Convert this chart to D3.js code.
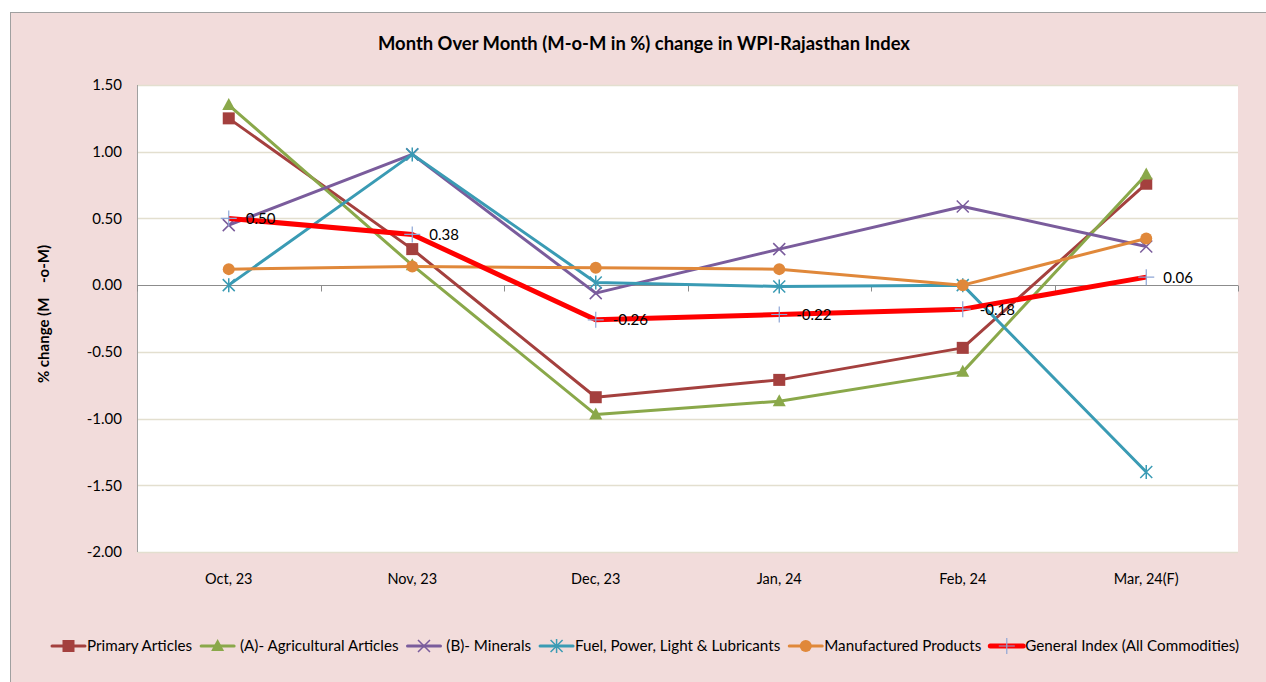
<!DOCTYPE html>
<html>
<head>
<meta charset="utf-8">
<script src="https://cdn.jsdelivr.net/npm/d3@7"></script>
<style>
  body { margin: 0; background: #fff; }
  svg text { font-family: "Lato", "Open Sans", sans-serif; fill: #000; }
</style>
</head>
<body>
<div id="chart"></div>
<script>
// data
var months = ['Oct, 23', 'Nov, 23', 'Dec, 23', 'Jan, 24', 'Feb, 24', 'Mar, 24(F)'];
var seriesNames = ['Primary Articles', ' (A)- Agricultural Articles', ' (B)- Minerals',
  'Fuel, Power, Light & Lubricants', 'Manufactured Products', 'General Index (All Commodities)'];
var primary = [1.25, 0.27, -0.84, -0.71, -0.47, 0.76];
var agri = [1.35, 0.15, -0.97, -0.87, -0.65, 0.83];
var minerals = [0.45, 0.98, -0.06, 0.27, 0.59, 0.29];
var fuel = [0.00, 0.98, 0.02, -0.01, 0.00, -1.40];
var manuf = [0.12, 0.14, 0.13, 0.12, 0.00, 0.35];
var general = [0.50, 0.38, -0.26, -0.22, -0.18, 0.06];
var yTicks = [-2.0, -1.5, -1.0, -0.5, 0.0, 0.5, 1.0, 1.5];

var W = 1266, H = 682;
var svg = d3.select('#chart').append('svg').attr('width', W).attr('height', H);

// plain hyphen for negatives, like the original
var fmt = function(d) { return d3.format('.2f')(d).replace('\u2212', '-'); };

// chart area background + border (right/bottom edges run off the picture)
svg.append('rect').attr('x', 10.5).attr('y', 12.5).attr('width', 1270).attr('height', 690)
  .attr('fill', '#f2dcdb').attr('stroke', '#a0a0a0').attr('stroke-width', 1);

var plot = { left: 137, top: 85, right: 1238, bottom: 552 };

var x = d3.scaleBand().domain(months).range([plot.left, plot.right]);
var y = d3.scaleLinear().domain([-2, 1.5]).range([plot.bottom, plot.top]);

svg.append('rect').attr('x', plot.left).attr('y', plot.top)
  .attr('width', plot.right - plot.left).attr('height', plot.bottom - plot.top)
  .attr('fill', '#fff');

// gridlines
svg.selectAll('.grid').data(yTicks.filter(function(d) { return d !== 0; }))
  .enter().append('line').classed('grid', true)
  .attr('x1', plot.left).attr('x2', plot.right)
  .attr('y1', function(d) { return Math.round(y(d)) + 0.5; })
  .attr('y2', function(d) { return Math.round(y(d)) + 0.5; })
  .attr('stroke', '#e3dfcf').attr('stroke-width', 1.5);

// y axis line
svg.append('line').attr('x1', plot.left + 0.5).attr('x2', plot.left + 0.5)
  .attr('y1', plot.top).attr('y2', plot.bottom).attr('stroke', '#a0a0a0');

// y tick labels
svg.selectAll('.ylab').data(yTicks).enter().append('text')
  .attr('x', 122).attr('y', function(d) { return y(d); })
  .attr('dy', '0.35em').attr('text-anchor', 'end').attr('font-size', 15)
  .text(fmt);

// zero axis with ticks at category boundaries
var y0 = Math.round(y(0)) + 0.5;
svg.append('line').attr('x1', plot.left).attr('x2', plot.right)
  .attr('y1', y0).attr('y2', y0).attr('stroke', '#8c8c8c').attr('stroke-width', 1);
var bounds = months.map(function(m) { return x(m); }).concat([plot.right]);
svg.selectAll('.xtick').data(bounds).enter().append('line')
  .attr('x1', function(d) { return Math.round(d) + 0.5; })
  .attr('x2', function(d) { return Math.round(d) + 0.5; })
  .attr('y1', y0).attr('y2', y0 + 6).attr('stroke', '#8c8c8c');

// x labels
svg.selectAll('.xlab').data(months).enter().append('text')
  .attr('x', function(d) { return x(d) + x.bandwidth() / 2; })
  .attr('y', 584).attr('text-anchor', 'middle').attr('font-size', 14.5)
  .text(function(d) { return d; });

// title
svg.append('text').attr('x', 644).attr('y', 50).attr('text-anchor', 'middle')
  .attr('font-size', 18.4).attr('font-weight', 'bold')
  .text('Month Over Month (M-o-M in %) change in WPI-Rajasthan Index');

// y axis title
svg.append('text').attr('transform', 'translate(49,314) rotate(-90)')
  .attr('text-anchor', 'middle').attr('font-size', 15).attr('font-weight', 'bold')
  .attr('xml:space', 'preserve')
  .text('% change (M    -o-M)');

// series
var series = [
  { values: primary, color: '#a4403e', width: 3, marker: 'square' },
  { values: agri, color: '#8aa84a', width: 3, marker: 'triangle' },
  { values: minerals, color: '#7a5c9c', width: 3, marker: 'x' },
  { values: fuel, color: '#3a9bb4', width: 3, marker: 'star' },
  { values: manuf, color: '#e0883a', width: 3, marker: 'circle' },
  { values: general, color: '#ff0000', width: 5, marker: 'plus' }
];

var line = d3.line()
  .x(function(d, i) { return x(months[i]) + x.bandwidth() / 2; })
  .y(function(d) { return y(d); });

function drawMarker(g, type, color, cx, cy) {
  if (type === 'square') {
    g.append('rect').attr('x', cx - 6).attr('y', cy - 6).attr('width', 12).attr('height', 12).attr('fill', color);
  } else if (type === 'triangle') {
    g.append('path').attr('d', 'M' + cx + ',' + (cy - 7) + 'L' + (cx + 6.5) + ',' + (cy + 5) + 'L' + (cx - 6.5) + ',' + (cy + 5) + 'Z').attr('fill', color);
  } else if (type === 'circle') {
    g.append('circle').attr('cx', cx).attr('cy', cy).attr('r', 6).attr('fill', color);
  } else if (type === 'x') {
    g.append('path').attr('d', 'M' + (cx - 6) + ',' + (cy - 6) + 'L' + (cx + 6) + ',' + (cy + 6) + 'M' + (cx + 6) + ',' + (cy - 6) + 'L' + (cx - 6) + ',' + (cy + 6))
      .attr('stroke', color).attr('stroke-width', 1.5);
  } else if (type === 'star') {
    g.append('path').attr('d', 'M' + (cx - 6) + ',' + (cy - 6) + 'L' + (cx + 6) + ',' + (cy + 6) + 'M' + (cx + 6) + ',' + (cy - 6) + 'L' + (cx - 6) + ',' + (cy + 6) + 'M' + cx + ',' + (cy - 7) + 'L' + cx + ',' + (cy + 7))
      .attr('stroke', color).attr('stroke-width', 1.5);
  } else if (type === 'plus') {
    g.append('path').attr('d', 'M' + (cx - 8) + ',' + cy + 'L' + (cx + 8) + ',' + cy + 'M' + cx + ',' + (cy - 8) + 'L' + cx + ',' + (cy + 8))
      .attr('stroke', '#8ea6d6').attr('stroke-width', 1.2);
  }
}

series.forEach(function(s) {
  svg.append('path').datum(s.values).attr('d', line)
    .attr('fill', 'none').attr('stroke', s.color).attr('stroke-width', s.width)
    .attr('stroke-linejoin', 'round');
  var g = svg.append('g');
  s.values.forEach(function(v, i) {
    drawMarker(g, s.marker, s.color, x(months[i]) + x.bandwidth() / 2, y(v));
  });
});

// data labels for general index
svg.selectAll('.dlab').data(general).enter().append('text')
  .attr('x', function(d, i) { return x(months[i]) + x.bandwidth() / 2 + 17; })
  .attr('y', function(d) { return y(d) + 5.5; })
  .attr('font-size', 15)
  .text(fmt);

// legend
var legend = svg.append('g');
var lx = 52, ly = 646;
series.forEach(function(s, i) {
  var g = legend.append('g');
  g.append('line').attr('x1', lx).attr('x2', lx + 33).attr('y1', ly).attr('y2', ly)
    .attr('stroke', s.color).attr('stroke-width', s.width).attr('stroke-linecap', 'round');
  drawMarker(g, s.marker, s.color, lx + 16.5, ly);
  var t = g.append('text').attr('x', lx + 35).attr('y', ly + 5).attr('font-size', 15.2)
    .attr('xml:space', 'preserve')
    .text(seriesNames[i]);
  lx += 35 + t.node().getComputedTextLength() + 9;
});
</script>
</body>
</html>
